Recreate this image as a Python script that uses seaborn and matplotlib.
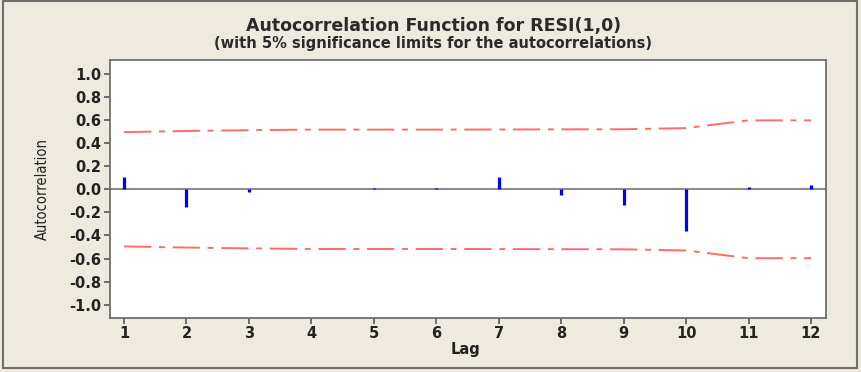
import numpy as np
import pandas as pd
import matplotlib
matplotlib.use("Agg")
import matplotlib.pyplot as plt
import seaborn as sns
from matplotlib.patches import Rectangle

lags = [1, 2, 3, 4, 5, 6, 7, 8, 9, 10, 11, 12]
acf_vals = [0.105, -0.15, -0.02, 0.005, 0.015, 0.01, 0.105, -0.05, -0.14, -0.365, 0.02, 0.04]
upper_lim = [0.495, 0.505, 0.512, 0.517, 0.517, 0.517, 0.518, 0.519, 0.52, 0.53, 0.597, 0.597]
lower_lim = [-v for v in upper_lim]
yticks = [1.0, 0.8, 0.6, 0.4, 0.2, 0.0, -0.2, -0.4, -0.6, -0.8, -1.0]

sns.set_style("ticks")
plt.rcParams['font.family'] = ['DejaVu Sans']

bg = "#EEEAE0"
fig = plt.figure(figsize=(8.61, 3.72), dpi=100, facecolor=bg)
ax = fig.add_axes([0.1278, 0.1452, 0.8315, 0.6935])
ax.set_facecolor("white")

df = pd.DataFrame({"Lag": lags, "upper": upper_lim, "lower": lower_lim})
dash = (0, (14, 4, 3, 4))
sns.lineplot(data=df, x="Lag", y="upper", ax=ax, color="#FF6B6B", lw=1.4, linestyle=dash)
sns.lineplot(data=df, x="Lag", y="lower", ax=ax, color="#FF6B6B", lw=1.4, linestyle=dash)

ax.axhline(0, color="#8C8C8C", lw=1.5, zorder=1)
ax.vlines(lags, 0, acf_vals, color="#0000FF", lw=2.3, zorder=3)

ax.set_xlim(0.776, 12.24)
ax.set_ylim(-1.115, 1.12)
ax.set_xticks(lags)
ax.set_xticklabels([str(l) for l in lags])
ax.set_yticks(yticks)
ax.set_yticklabels([f"{t:.1f}" for t in yticks])
ax.tick_params(direction="out", length=4, width=1.2, color="#555555",
               labelsize=10.5, pad=2, labelcolor="#222222")
for lab in ax.get_xticklabels() + ax.get_yticklabels():
    lab.set_fontweight("bold")
for s in ["left", "bottom", "right", "top"]:
    ax.spines[s].set_color("#6E6E6E")
    ax.spines[s].set_linewidth(1.3)

ax.set_xlabel("")
ax.set_ylabel("")
fig.text(0.541, 0.06, "Lag", ha="center", va="center", fontsize=10.5, fontweight="bold", color="#222222")
fig.text(0.049, 0.491, "Autocorrelation", rotation=90, ha="center", va="center", fontsize=10.5,
         family=["DejaVu Sans"], stretch="condensed", color="#222222")

fig.text(0.503, 0.930, "Autocorrelation Function for RESI(1,0)", ha="center", va="center",
         fontsize=12.5, fontweight="bold", color="#2A2A2A")
fig.text(0.503, 0.884, "(with 5% significance limits for the autocorrelations)", ha="center",
         va="center", fontsize=10.5, fontweight="bold", color="#2A2A2A")

fig.patches.append(Rectangle((0.004, 0.012), 0.991, 0.985, transform=fig.transFigure,
                             fill=False, edgecolor="#6E6E6E", lw=1.5))

fig.savefig("out.png", dpi=100, facecolor=bg)
